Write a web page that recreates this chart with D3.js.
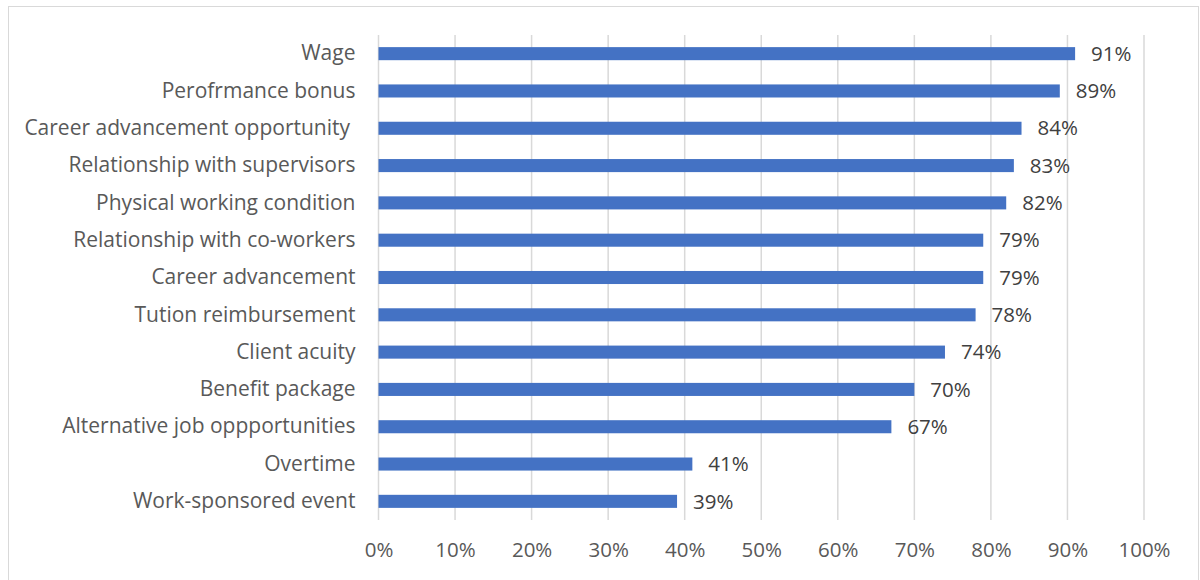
<!DOCTYPE html>
<html>
<head>
<meta charset="utf-8">
<script src="https://cdn.jsdelivr.net/npm/d3@7"></script>
<style>
  body { margin: 0; background: #fff; }
  text { font-family: "Open Sans", sans-serif; }
</style>
</head>
<body>
<div id="chart"></div>
<script>
// Data
const categories = [
    "Wage",
    "Perofrmance bonus",
    "Career advancement opportunity ",
    "Relationship with supervisors",
    "Physical working condition",
    "Relationship with co-workers",
    "Career advancement",
    "Tution reimbursement",
    "Client acuity",
    "Benefit package",
    "Alternative job oppportunities",
    "Overtime",
    "Work-sponsored event"
];
const values = [0.91, 0.89, 0.84, 0.83, 0.82, 0.79, 0.79, 0.78, 0.74, 0.70, 0.67, 0.41, 0.39];
const xTicks = [0, 0.1, 0.2, 0.3, 0.4, 0.5, 0.6, 0.7, 0.8, 0.9, 1.0];

const W = 1200, H = 580;
const margin = {top: 35, right: 56, bottom: 60, left: 378.5};
const width = W - margin.left - margin.right;
const height = H - margin.top - margin.bottom;

const svg = d3.select("#chart")
    .append("svg")
    .attr("width", W)
    .attr("height", H);

// outer chart border
svg.append("rect")
    .attr("x", 8.5)
    .attr("y", 6.5)
    .attr("width", 1190)
    .attr("height", 580)
    .attr("fill", "none")
    .attr("stroke", "#d9d9d9")
    .attr("stroke-width", 1);

const g = svg.append("g")
    .attr("transform", `translate(${margin.left},${margin.top})`);

const x = d3.scaleLinear()
    .domain([0, 1])
    .range([0, width]);

const y = d3.scaleBand()
    .domain(categories)
    .range([0, height])
    .paddingInner(0.65)
    .paddingOuter(0.325);

// vertical gridlines
g.selectAll("line.grid")
    .data(xTicks)
    .join("line")
    .attr("class", "grid")
    .attr("x1", d => x(d))
    .attr("x2", d => x(d))
    .attr("y1", 0)
    .attr("y2", height)
    .attr("stroke", "#d9d9d9")
    .attr("stroke-width", 1.5);

// x axis labels
const xAxis = g.append("g")
    .attr("transform", `translate(0, ${height})`)
    .call(d3.axisBottom(x).tickValues(xTicks).tickFormat(d3.format(".0%")).tickSize(0).tickPadding(22));
xAxis.select(".domain").remove();
xAxis.selectAll("text")
    .style("font-size", "20.5px")
    .style("font-family", "'Open Sans', sans-serif")
    .attr("fill", "#595959");

// y axis labels
const yAxis = g.append("g")
    .call(d3.axisLeft(y).tickSize(0).tickPadding(23));
yAxis.select(".domain").remove();
yAxis.selectAll("text")
    .style("font-size", "21px")
    .style("font-family", "'Open Sans', sans-serif")
    .style("white-space", "pre")
    .attr("fill", "#595959");

// bars
g.selectAll("rect.bar")
    .data(values)
    .join("rect")
    .attr("class", "bar")
    .attr("x", 0)
    .attr("y", (d, i) => y(categories[i]))
    .attr("width", d => x(d))
    .attr("height", y.bandwidth())
    .attr("fill", "#4472c4");

// value labels
g.selectAll("text.val")
    .data(values)
    .join("text")
    .attr("class", "val")
    .attr("x", d => x(d) + 16)
    .attr("y", (d, i) => y(categories[i]) + y.bandwidth() / 2)
    .attr("dy", "0.35em")
    .style("font-size", "20.5px")
    .attr("fill", "#404040")
    .text(d3.format(".0%"));
</script>
</body>
</html>
